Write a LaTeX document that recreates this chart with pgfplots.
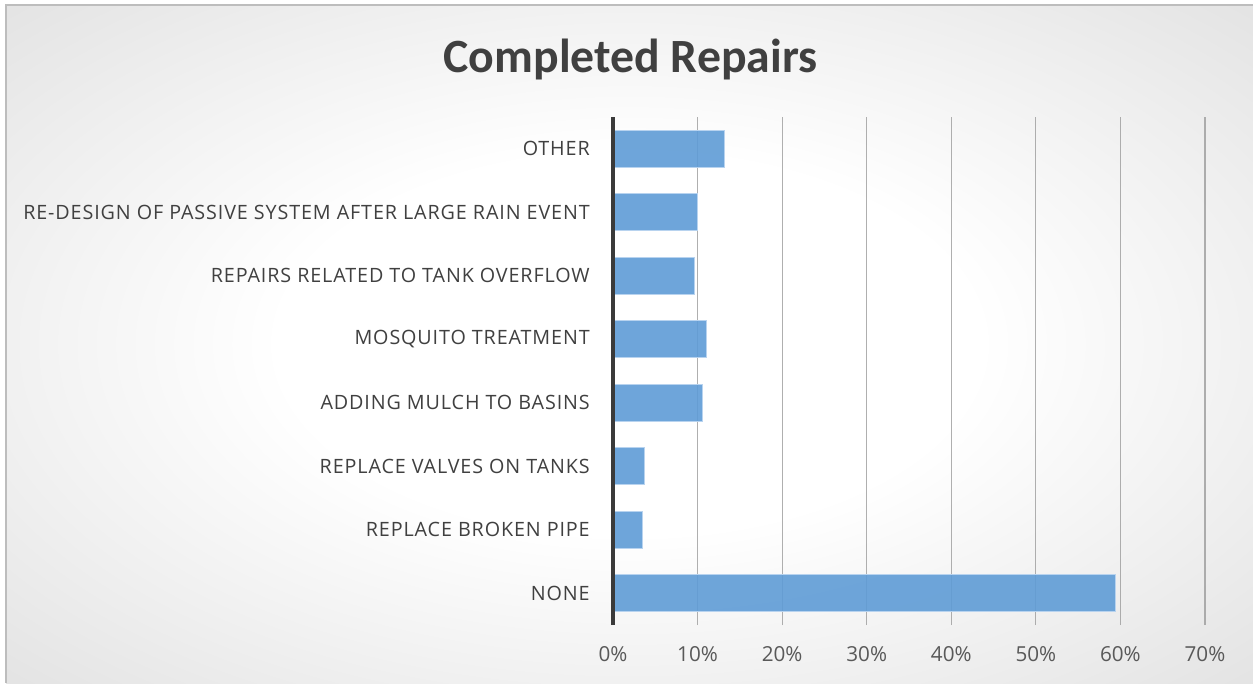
\documentclass[border=0pt]{standalone}
\usepackage{pgfplots}
\pgfplotsset{compat=1.18}
\usepackage{fontspec}
\setmainfont{Open Sans}
\newfontfamily\titlefont{Carlito}
\newfontfamily\catfont[LetterSpace=4.5]{Open Sans}
\definecolor{barblue}{HTML}{5F9CD6}
\definecolor{baredge}{HTML}{B8D3EF}
\definecolor{bggray}{HTML}{BCBCBC}
\definecolor{framegray}{HTML}{BDBDBD}
\definecolor{titlegray}{HTML}{404040}
\definecolor{labelgray}{HTML}{404040}
\definecolor{tickgray}{HTML}{595959}
\definecolor{axisdark}{HTML}{3A3A3A}
\definecolor{gridgray}{HTML}{9C9C9C}
\pgfdeclareradialshading{bgshade}{\pgfpoint{0bp}{0bp}}{color(0bp)=(white); color(14bp)=(white); color(66bp)=(bggray); color(80bp)=(bggray)}
\begin{document}
\begin{tikzpicture}[x=1pt,y=1pt]
\useasboundingbox (0,0) rectangle (939.75,512.25);
\fill[white] (0,0) rectangle (939.75,512.25);
\shade[shading=bgshade] (4.5,0) rectangle (939.75,508.5);
\draw[color=framegray, line width=1.2pt] (4.5,0) -- (4.5,508.5) -- (939.75,508.5);
\node[font=\titlefont\bfseries\fontsize{35.8}{40}\selectfont, text=titlegray, anchor=base, inner sep=0pt] at (472.9,457.5) {Completed Repairs};
\begin{axis}[
  at={(459.75pt,43.5pt)}, anchor=south west,
  scale only axis, width=444pt, height=381pt,
  xbar, bar width=27.75pt,
  xmin=0, xmax=70, ymin=-0.5, ymax=7.5,
  ytick={0,1,2,3,4,5,6,7},
  yticklabels={NONE,REPLACE BROKEN PIPE,REPLACE VALVES ON TANKS,ADDING MULCH TO BASINS,MOSQUITO TREATMENT,REPAIRS RELATED TO TANK OVERFLOW,RE-DESIGN OF PASSIVE SYSTEM AFTER LARGE RAIN EVENT,OTHER},
  xtick={0,10,20,30,40,50,60,70},
  xticklabels={0\%,10\%,20\%,30\%,40\%,50\%,60\%,70\%},
  xmajorgrids,
  grid style={draw=gridgray, line width=0.9pt, opacity=0.8},
  axis line style={draw=none},
  major tick length=0pt,
  yticklabel style={font=\catfont\fontsize{14.8}{16}\selectfont, text=labelgray, inner sep=0pt, xshift=-17.25pt},
  xticklabel style={font=\fontsize{15.5}{18}\selectfont, text=tickgray, inner sep=0pt, yshift=-16pt},
  clip=false,
]
\addplot[fill=barblue, fill opacity=0.9, draw=baredge, line width=0.7pt]
  coordinates {(59.4,0) (3.5,1) (3.7,2) (10.6,3) (11.0,4) (9.6,5) (10.0,6) (13.2,7)};
\draw[axisdark, line width=2.4pt] (axis cs:0,-0.5) -- (axis cs:0,7.5);
\end{axis}
\end{tikzpicture}
\end{document}
